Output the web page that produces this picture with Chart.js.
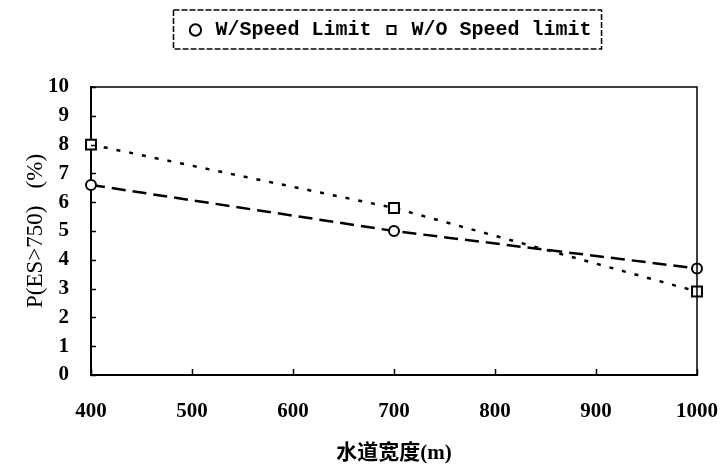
<!DOCTYPE html>
<html>
<head>
<meta charset="utf-8">
<script src="https://cdn.jsdelivr.net/npm/chart.js@4"></script>
<style>
  body { margin: 0; background: #fff; }
  #wrap { width: 723px; height: 466px; }
</style>
</head>
<body>
<div id="wrap"><canvas id="myChart" width="723" height="466"></canvas></div>
<script>
// 데이터
const channelWidths = [400, 700, 1000]
const withSpeedLimit = [6.6, 5.0, 3.7]
const withoutSpeedLimit = [8.0, 5.8, 2.9]
const xTickValues = [400, 500, 600, 700, 800, 900, 1000]
const yTickValues = [0, 1, 2, 3, 4, 5, 6, 7, 8, 9, 10]

const serif = '"Liberation Serif", "Times New Roman", serif'

// 범례 높이 늘리기 + 오른쪽으로 조금 이동
const legendSpace = {
    id: 'legendSpace',
    beforeInit(chart) {
        const fit = chart.legend.fit
        chart.legend.fit = function () {
            fit.bind(chart.legend)()
            this.height += 37
        }
    },
    afterLayout(chart) {
        chart.legend.left += 29
        chart.legend.right += 29
    },
}

// 범례 점선 테두리
const legendBorder = {
    id: 'legendBorder',
    afterDraw(chart) {
        const boxes = chart.legend.legendHitBoxes
        if (!boxes || !boxes.length) return
        const left = Math.min(...boxes.map(b => b.left)) - 12
        const right = Math.max(...boxes.map(b => b.left + b.width)) + 10
        const top = boxes[0].top - 10
        const bottom = boxes[0].top + boxes[0].height + 9
        const ctx = chart.ctx
        ctx.save()
        ctx.strokeStyle = '#000'
        ctx.lineWidth = 1.5
        ctx.setLineDash([6, 2])
        ctx.strokeRect(left, top, right - left, bottom - top)
        ctx.restore()
    },
}

// 플롯 테두리 + 안쪽 눈금
const frame = {
    id: 'frame',
    afterDraw(chart) {
        const { ctx, chartArea: a, scales } = chart
        ctx.save()
        ctx.strokeStyle = '#000'
        ctx.lineWidth = 1.5
        ctx.beginPath()
        ctx.moveTo(a.left, a.top)
        ctx.lineTo(a.right, a.top)
        ctx.lineTo(a.right, a.bottom)
        ctx.stroke()
        ctx.beginPath()
        scales.y.ticks.forEach(t => {
            const y = Math.round(scales.y.getPixelForValue(t.value)) + 0.5
            ctx.moveTo(a.left, y)
            ctx.lineTo(a.left + 5, y)
        })
        scales.x.ticks.forEach(t => {
            const x = Math.round(scales.x.getPixelForValue(t.value)) + 0.5
            ctx.moveTo(x, a.bottom)
            ctx.lineTo(x, a.bottom - 6)
        })
        ctx.stroke()
        ctx.restore()
    },
}

const ctx = document.getElementById('myChart').getContext('2d')
const myChart = new Chart(ctx, {
    type: 'line',
    data: {
        datasets: [
            {
                label: 'W/Speed Limit',
                data: channelWidths.map((x, i) => ({ x: x, y: withSpeedLimit[i] })),
                borderColor: '#000',
                borderWidth: 2.5,
                borderDash: [14, 7],
                pointStyle: 'circle',
                pointRadius: 5,
                pointBorderWidth: 2,
                pointBackgroundColor: '#fff',
                pointBorderColor: '#000',
                clip: false,
            },
            {
                label: 'W/O Speed limit',
                data: channelWidths.map((x, i) => ({ x: x, y: withoutSpeedLimit[i] })),
                borderColor: '#000',
                borderWidth: 2.5,
                borderDash: [4, 9],
                pointStyle: 'rect',
                pointRadius: 7,
                pointBorderWidth: 2,
                pointBackgroundColor: '#fff',
                pointBorderColor: '#000',
                clip: false,
            },
        ],
    },
    options: {
        responsive: false,
        animation: false,
        layout: { padding: { top: 10, right: 26, left: 22, bottom: 0 } },
        plugins: {
            tooltip: { enabled: false },
            legend: {
                position: 'top',
                labels: {
                    usePointStyle: true,
                    boxHeight: 8,
                    padding: 10,
                    color: '#000',
                    font: { family: '"Liberation Mono", "DejaVu Sans Mono", monospace', size: 20, weight: 'bold' },
                },
            },
        },
        scales: {
            x: {
                type: 'linear',
                min: 400,
                max: 1000,
                afterBuildTicks(scale) {
                    scale.ticks = xTickValues.map(v => ({ value: v }))
                },
                afterFit(scale) {
                    scale.height = 91
                    scale.paddingRight = 0
                    scale.paddingLeft = 0
                },
                grid: { display: false },
                border: { display: true, color: '#000', width: 2 },
                ticks: {
                    color: '#000',
                    padding: 16,
                    maxRotation: 0,
                    callback: v => String(v),
                    font: { family: serif, size: 21, weight: 'bold' },
                },
                title: {
                    display: true,
                    text: '水道宽度(m)',
                    color: '#000',
                    padding: { top: 8, bottom: 0 },
                    font: { family: '"Liberation Serif", "Noto Sans CJK SC", serif', size: 21, weight: 'bold' },
                },
            },
            y: {
                min: 0,
                max: 10,
                afterBuildTicks(scale) {
                    scale.ticks = yTickValues.map(v => ({ value: v }))
                },
                afterFit(scale) {
                    scale.width = 69
                },
                grid: { display: false },
                border: { display: true, color: '#000', width: 2 },
                ticks: {
                    color: '#000',
                    padding: 14,
                    font: { family: serif, size: 21, weight: 'bold' },
                },
                title: {
                    display: true,
                    text: 'P(ES>750)   (%)',
                    color: '#000',
                    padding: { top: 0, bottom: 0 },
                    font: { family: serif, size: 23 },
                },
            },
        },
    },
    plugins: [legendSpace, legendBorder, frame],
})
</script>
</body>
</html>
